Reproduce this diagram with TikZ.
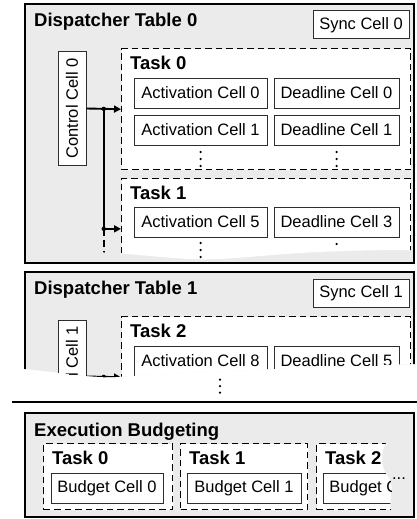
\documentclass[tikz,border=0pt]{standalone}
\usepackage{fontspec}
\setmainfont{Liberation Sans}
\usetikzlibrary{arrows.meta,calc}
\definecolor{tablegray}{RGB}{235,235,235}
\definecolor{cellline}{RGB}{45,45,45}
\newcommand\dtcellfont{\fontsize{16.5}{19}\selectfont}
\newcommand\dttitlefont{\fontsize{18.5}{22}\selectfont\bfseries}
\begin{document}
\begin{tikzpicture}[x=1pt,y=-1pt,
  tablebox/.style={draw=black,line width=1.9pt,fill=tablegray},
  taskbox/.style={draw=black,line width=1.4pt,dash pattern=on 6.5pt off 4pt,fill=white,anchor=north west,inner sep=0pt},
  cellbox/.style={draw=cellline,line width=1pt,fill=white,inner sep=0pt,minimum height=30pt,font=\dtcellfont},
  ctrlbox/.style={cellbox,rotate=90,minimum width=113pt,minimum height=28pt},
  titletext/.style={font=\dttitlefont,anchor=base west,inner sep=0pt},
  celltext/.style={font=\dtcellfont,inner sep=0pt},
  conn/.style={line width=1.9pt},
  tip/.style={-{Triangle[length=7pt,width=7pt]}},
  dashconn/.style={line width=1.9pt,dash pattern=on 7pt off 4pt},
  vdot/.style={fill=black},
]
\useasboundingbox (0,0) rectangle (417,519);
\fill[white] (0,0) rectangle (417,519);

% ---------------- Dispatcher Table 0 ----------------
\draw[tablebox] (25,4) rectangle (414,263);
\node[titletext] (dt0) at (34,27) {Dispatcher Table 0};
\node[cellbox,minimum width=96pt,minimum height=28pt] (sync0) at (361,25) {Sync Cell 0};
\node[taskbox,minimum width=289pt,minimum height=121pt] (task0) at (121,48) {};
\node[titletext] (task0t) at (130,70) {Task 0};
\node[cellbox,minimum width=133pt] (act0) at (200.5,93) {Activation Cell 0};
\node[cellbox,minimum width=125pt] (dl0) at (336.5,93) {Deadline Cell 0};
\node[cellbox,minimum width=133pt] (act1) at (200.5,130) {Activation Cell 1};
\node[cellbox,minimum width=125pt] (dl1) at (336.5,130) {Deadline Cell 1};
\foreach \yy in {152,159,166} {\fill[vdot] (200.5,\yy) circle (1.25pt); \fill[vdot] (336.5,\yy) circle (1.25pt);}
\node[ctrlbox] (cc0) at (72,108.5) {Control Cell 0};
\coordinate (j0) at ($(cc0.south)!0.5!(task0.west)$);
\coordinate (j1) at ($(j0)+(0,120)$);
\draw[conn,tip] (cc0.south) -- (task0.west);
\draw[conn] (j0) -- (j1);
\fill (j0) circle (2.2pt);
\begin{scope}
  \clip (90,170) -- (412,170) -- (412,250) .. controls (300,250) and (260,257) .. (220,259)
        .. controls (175,261) and (140,253) .. (90,252) -- cycle;
  \node[taskbox,minimum width=289pt,minimum height=110pt] (task1) at (121,178) {};
  \node[titletext] (task1t) at (130,199.5) {Task 1};
  \node[cellbox,minimum width=133pt] (act5) at (200.5,222) {Activation Cell 5};
  \node[cellbox,minimum width=125pt] (dl3) at (336.5,222) {Deadline Cell 3};
  \foreach \yy in {243,250,257} {\fill[vdot] (200.5,\yy) circle (1.25pt);}
  \fill[vdot] (336.5,244) circle (1.25pt);
  \draw[dashconn] (j1) -- ++(0,40);
\end{scope}
\draw[conn,tip] (j1) -- (j1 -| task1.west);
\fill (j1) circle (2.2pt);

% ---------------- Dispatcher Table 1 (torn) ----------------
\begin{scope}
  \clip (0,267) -- (417,267) -- (417,364) .. controls (320,366) and (200,372) .. (115,377)
        .. controls (85,378) and (55,371) .. (12,368) -- (0,368) -- cycle;
  \draw[tablebox] (25,272) rectangle (414,420);
  \node[titletext] (dt1) at (34,294) {Dispatcher Table 1};
  \node[cellbox,minimum width=96pt,minimum height=28pt] (sync1) at (361,293) {Sync Cell 1};
  \node[taskbox,minimum width=289pt,minimum height=121pt] (task2) at (121,316) {};
  \node[titletext] (task2t) at (130,337.5) {Task 2};
  \node[cellbox,minimum width=133pt] (act8) at (200.5,361) {Activation Cell 8};
  \node[cellbox,minimum width=125pt] (dl5) at (336.5,361) {Deadline Cell 5};
  \node[ctrlbox] (cc1) at (72,376.5) {Control Cell 1};
  \coordinate (j2) at ($(cc1.south)!0.5!(task2.west)$);
  \draw[conn,tip] (cc1.south) -- (task2.west);
  \draw[conn] (j2) -- ++(0,40);
  \fill (j2) circle (2.2pt);
\end{scope}
\foreach \yy in {379.5,386,392.5} {\fill[vdot] (220,\yy) circle (1.25pt);}
\draw[line width=1.9pt] (12,402) -- (417,402);

% ---------------- Execution Budgeting ----------------
\draw[tablebox] (25,413) rectangle (414,517);
\node[titletext] (eb) at (34,436) {Execution Budgeting};
\node[taskbox,minimum width=129pt,minimum height=66pt] (bt0) at (43,443) {};
\node[titletext] (bt0t) at (52,464) {Task 0};
\node[cellbox,minimum width=112pt] (bc0) at (107,488) {Budget Cell 0};
\node[taskbox,minimum width=127pt,minimum height=66pt] (bt1) at (180,443) {};
\node[titletext] (bt1t) at (189,464) {Task 1};
\node[cellbox,minimum width=114pt] (bc1) at (244,488) {Budget Cell 1};
\begin{scope}
  \clip (300,430) -- (388,430) -- (387,441) .. controls (379,455) and (381,468) .. (389,478)
        .. controls (395,487) and (387,500) .. (392,513) -- (300,513) -- cycle;
  \node[taskbox,minimum width=129pt,minimum height=66pt] (bt2) at (316,443) {};
  \node[titletext] (bt2t) at (325,464) {Task 2};
  \node[cellbox,minimum width=112pt] (bc2) at (379,488) {Budget Cell 2};
\end{scope}
\node[celltext,anchor=base] (more) at (399,479) {...};
\end{tikzpicture}
\end{document}
